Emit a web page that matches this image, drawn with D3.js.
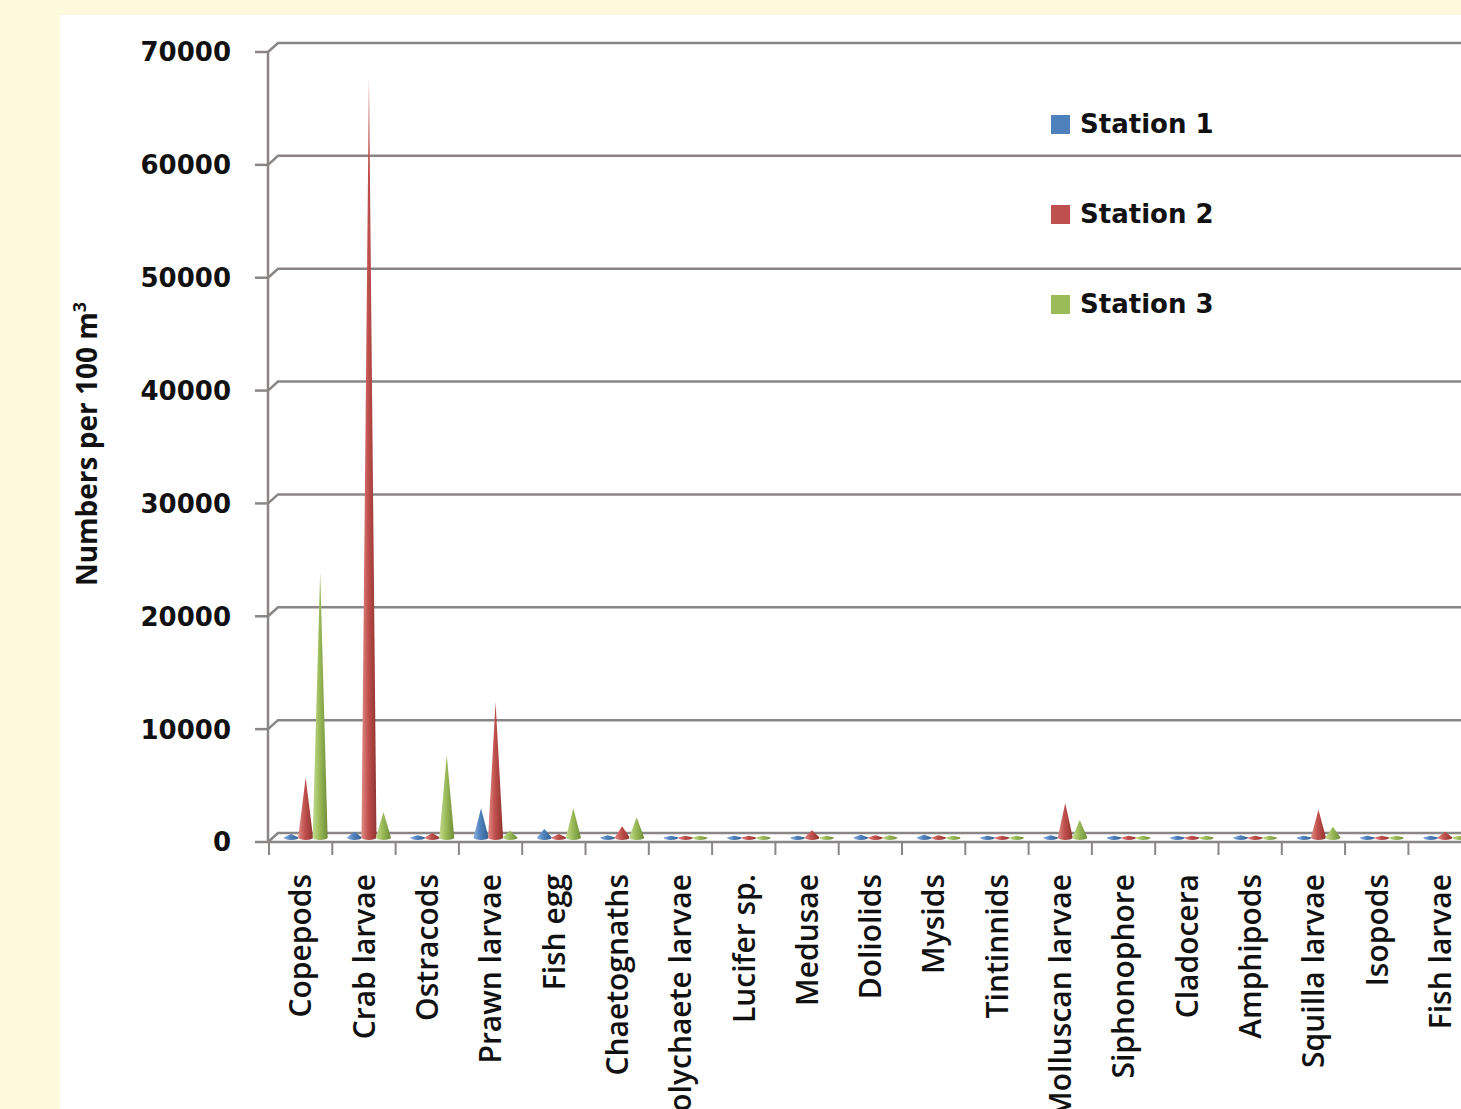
<!DOCTYPE html>
<html>
<head>
<meta charset="utf-8">
<script src="https://cdn.jsdelivr.net/npm/d3@7/dist/d3.min.js"></script>
<style>
  html, body { margin: 0; padding: 0; background: #fef8dc; overflow: hidden; }
  svg { display: block; }
</style>
</head>
<body>
<div id="chart"></div>
<script>
// categories and station values (numbers per 100 m3)
const categories = ['Copepods', 'Crab larvae', 'Ostracods', 'Prawn larvae', 'Fish egg', 'Chaetognaths',
  'Polychaete larvae', 'Lucifer sp.', 'Medusae', 'Doliolids', 'Mysids', 'Tintinnids', 'Molluscan larvae',
  'Siphonophore', 'Cladocera', 'Amphipods', 'Squilla larvae', 'Isopods', 'Fish larvae'];
const station1 = [300, 500, 200, 2600, 750, 200, 150, 150, 150, 250, 250, 150, 200, 150, 150, 200, 150, 150, 150];
const station2 = [5300, 67300, 400, 12000, 300, 1000, 150, 150, 650, 200, 200, 150, 3050, 150, 150, 150, 2450, 150, 500];
const station3 = [23500, 2250, 7300, 600, 2600, 1800, 150, 150, 150, 200, 150, 150, 1550, 150, 150, 150, 950, 150, 150];
const seriesNames = ['Station 1', 'Station 2', 'Station 3'];
const yTicks = [0, 10000, 20000, 30000, 40000, 50000, 60000, 70000];

const W = 1461, H = 1109;
const colors = ['#4f81bd', '#c0504d', '#9bbb59'];
const light = ['#8fb2e0', '#e08c88', '#c4dc92'];
const dark = ['#34608f', '#8e3431', '#6f8c38'];

// depth of the 3d floor
const dx = 10, dy = -9;
const x0 = 269, band = 63.3;

var svg = d3.select('#chart').append('svg').attr('width', W).attr('height', H);

// white panel
svg.append('rect').attr('x', 60).attr('y', 15).attr('width', W - 60).attr('height', H - 15).attr('fill', '#fff');

var x = d3.scaleBand().domain(categories).range([x0, x0 + band * categories.length]).padding(0);
var xs = d3.scaleBand().domain(seriesNames).range([-21.75, 21.75]).padding(0);
var y = d3.scaleLinear().domain([0, 70000]).range([842, 52]);

// gradients for cone shading
var defs = svg.append('defs');
colors.forEach((c, i) => {
    var g = defs.append('linearGradient').attr('id', 'cone' + i).attr('x1', 0).attr('x2', 1).attr('y1', 0).attr('y2', 0);
    g.append('stop').attr('offset', '0%').attr('stop-color', light[i]);
    g.append('stop').attr('offset', '45%').attr('stop-color', c);
    g.append('stop').attr('offset', '100%').attr('stop-color', dark[i]);
});

var grid = svg.append('g').attr('fill', 'none').attr('stroke', '#8a8686').attr('stroke-width', 2.5);

// back wall gridlines with the small diagonal from the front axis
yTicks.forEach(t => {
    grid.append('path').attr('d', `M${x0 - 1},${y(t)} L${x0 - 1 + dx},${y(t) + dy} L${W},${y(t) + dy}`);
    grid.append('line').attr('x1', 255).attr('x2', x0 - 1).attr('y1', y(t)).attr('y2', y(t));
});
// front floor edge and vertical axis
grid.append('line').attr('x1', x0 - 1).attr('x2', W).attr('y1', y(0)).attr('y2', y(0));
grid.append('line').attr('x1', x0 - 1).attr('x2', x0 - 1).attr('y1', y(70000)).attr('y2', y(0));
// category ticks
d3.range(categories.length + 1).forEach(i => {
    var px = x0 + band * i;
    grid.append('line').attr('x1', px).attr('x2', px).attr('y1', y(0)).attr('y2', y(0) + 13).attr('stroke-width', 2);
});

// cones
var series = [station1, station2, station3];
var cones = svg.append('g');
series.forEach((vals, s) => {
    vals.forEach((v, i) => {
        var cx = x(categories[i]) + band / 2 + dx / 2 + xs(seriesNames[s]) + xs.bandwidth() / 2;
        var by = y(0) + dy / 2;
        var ty = y(v) + dy / 2;
        var rx = 7.5, ry = 2.5;
        cones.append('path')
            .attr('d', `M${cx - rx},${by} L${cx},${ty} L${cx + rx},${by} A${rx},${ry} 0 0 1 ${cx - rx},${by} Z`)
            .attr('fill', `url(#cone${s})`);
    });
});

// y tick labels
svg.append('g').selectAll('text').data(yTicks).join('text')
    .attr('x', 231).attr('y', d => y(d)).attr('dy', '0.36em')
    .attr('text-anchor', 'end')
    .style('font', 'bold 26px "DejaVu Sans", sans-serif').attr('fill', '#111')
    .text(d => d);

// y axis title
var title = svg.append('text')
    .attr('transform', 'translate(97,444) rotate(-90)')
    .attr('text-anchor', 'middle')
    .style('font', 'bold 28px "Open Sans", sans-serif').attr('fill', '#111');
title.append('tspan').text('Numbers per 100 m');
title.append('tspan').attr('dy', -11).style('font-size', '18px').text('3');

// category labels, rotated
svg.append('g').selectAll('text').data(categories).join('text')
    .attr('transform', d => `translate(${x(d) + band / 2},874) rotate(-90)`)
    .attr('dy', '0.36em')
    .attr('text-anchor', 'end')
    .style('font', '600 30px "Open Sans", sans-serif').attr('fill', '#111')
    .text(d => d);

// legend
var legend = svg.append('g').selectAll('g').data(seriesNames).join('g')
    .attr('transform', (d, i) => `translate(1051,${124 + i * 90})`);
legend.append('rect').attr('x', 0).attr('y', -9).attr('width', 19).attr('height', 19).attr('fill', (d, i) => colors[i]);
legend.append('text').attr('x', 29).attr('dy', '0.36em')
    .style('font', 'bold 26px "DejaVu Sans", sans-serif').attr('fill', '#111')
    .text(d => d);
</script>
</body>
</html>
